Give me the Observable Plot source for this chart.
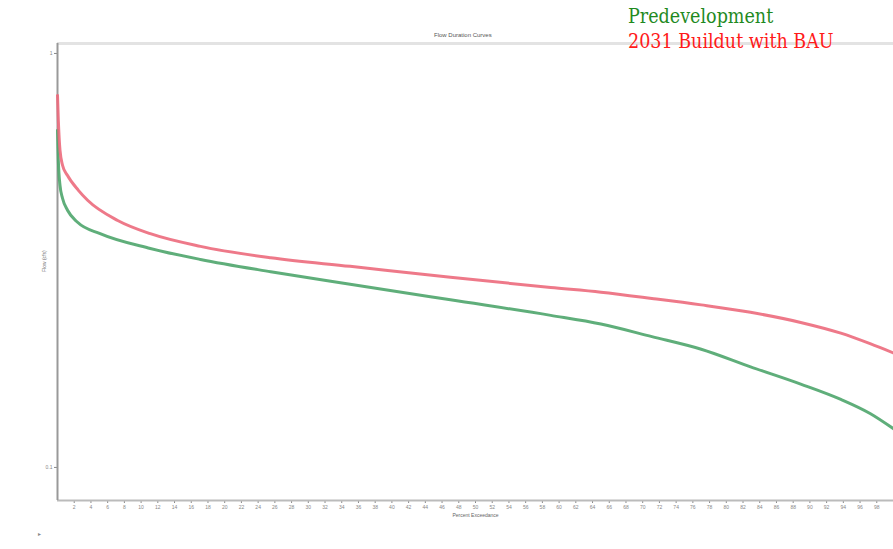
<!DOCTYPE html>
<html>
<head>
<meta charset="utf-8">
<script src="https://cdn.jsdelivr.net/npm/d3@7"></script>
<script src="https://cdn.jsdelivr.net/npm/@observablehq/plot@0.6"></script>
<style>
  html, body { margin: 0; padding: 0; background: #fff; overflow: hidden; }
  #wrap { position: relative; width: 893px; height: 549px; }
  #chart { position: absolute; left: 0; top: 0; }
  .leg { position: absolute; font-family: "DejaVu Serif", "Liberation Serif", serif; font-stretch: condensed; font-size: 19.5px; white-space: nowrap; }
  .title { position: absolute; font-family: "Liberation Sans", Arial, sans-serif; font-size: 6px; color: #555; white-space: nowrap; }
  .mark { position: absolute; font-family: "Liberation Sans", Arial, sans-serif; font-size: 6px; color: #888; }
</style>
</head>
<body>
<div id="wrap">
  <div id="chart"></div>
  <div class="title" style="left:434px; top:32px;">Flow Duration Curves</div>
  <div class="leg" style="left:628px; top:5px; color:#1f8a1f;">Predevelopment</div>
  <div class="leg" style="left:628px; top:30px; color:#ff1a1a;">2031 Buildut with BAU</div>
  <div class="mark" style="left:38px; top:530px;">▸</div>
</div>
<script>
// Percent exceedance (x) positions
const pctBAU = [0, 0.1, 0.3, 0.6, 1.2, 2.5, 3.6, 7.2, 11.1, 17.1, 25.5, 35, 47, 59, 65, 71.1, 77, 82.9, 88.9, 93.7, 97.2, 100];
const flowBAU = [0.792, 0.689, 0.583, 0.537, 0.507, 0.467, 0.442, 0.395, 0.367, 0.342, 0.321, 0.306, 0.288, 0.272, 0.265, 0.256, 0.247, 0.237, 0.224, 0.211, 0.199, 0.189];
const pctPre = [0, 0.1, 0.3, 0.6, 1.2, 2.4, 5.1, 11.1, 17.1, 25.5, 35, 47, 59, 65, 71.1, 77, 82.9, 88.9, 93.7, 97.2, 100];
const flowPre = [0.652, 0.551, 0.480, 0.447, 0.418, 0.391, 0.367, 0.338, 0.318, 0.297, 0.277, 0.254, 0.233, 0.222, 0.207, 0.193, 0.175, 0.159, 0.146, 0.135, 0.124];
const yTicks = [0.1, 1];
const xTicks = d3.range(2, 100, 2);
const yDomain = [0.0832, 1.057];
const xDomain = [0, 100];

const bau = pctBAU.map((p, i) => ({pct: p, flow: flowBAU[i]}));
const pre = pctPre.map((p, i) => ({pct: p, flow: flowPre[i]}));

const chart = Plot.plot({
  width: 893,
  height: 549,
  marginLeft: 57,
  marginRight: 0,
  marginTop: 43,
  marginBottom: 49,
  style: {fontFamily: "Liberation Sans, Arial, sans-serif", fontSize: "5px", color: "#888", background: "white"},
  x: {domain: xDomain, ticks: xTicks, tickSize: 3, tickPadding: 2, label: null},
  y: {type: "log", domain: yDomain, ticks: yTicks, tickFormat: d => String(d), tickSize: 3, tickPadding: 2, label: null},
  marks: [
    Plot.ruleY([yDomain[1]], {stroke: "#e3e3e3", strokeWidth: 3}),
    Plot.ruleY([yDomain[0]], {stroke: "#bbb", strokeWidth: 2}),
    Plot.ruleX([xDomain[0]], {stroke: "#999", strokeWidth: 2}),
    Plot.line(pre, {x: "pct", y: "flow", stroke: "#4ea56c", strokeWidth: 3, strokeOpacity: 0.9, curve: "monotone-x"}),
    Plot.line(bau, {x: "pct", y: "flow", stroke: "#ec6a7c", strokeWidth: 3, strokeOpacity: 0.9, curve: "monotone-x"}),
    Plot.text(["Percent Exceedance"], {frameAnchor: "bottom", dy: 16, fill: "#666", fontSize: 5}),
    Plot.text(["Flow (cfs)"], {frameAnchor: "left", dx: -13, rotate: -90, fill: "#666", fontSize: 5})
  ]
});
document.getElementById("chart").appendChild(chart);
</script>
</body>
</html>
